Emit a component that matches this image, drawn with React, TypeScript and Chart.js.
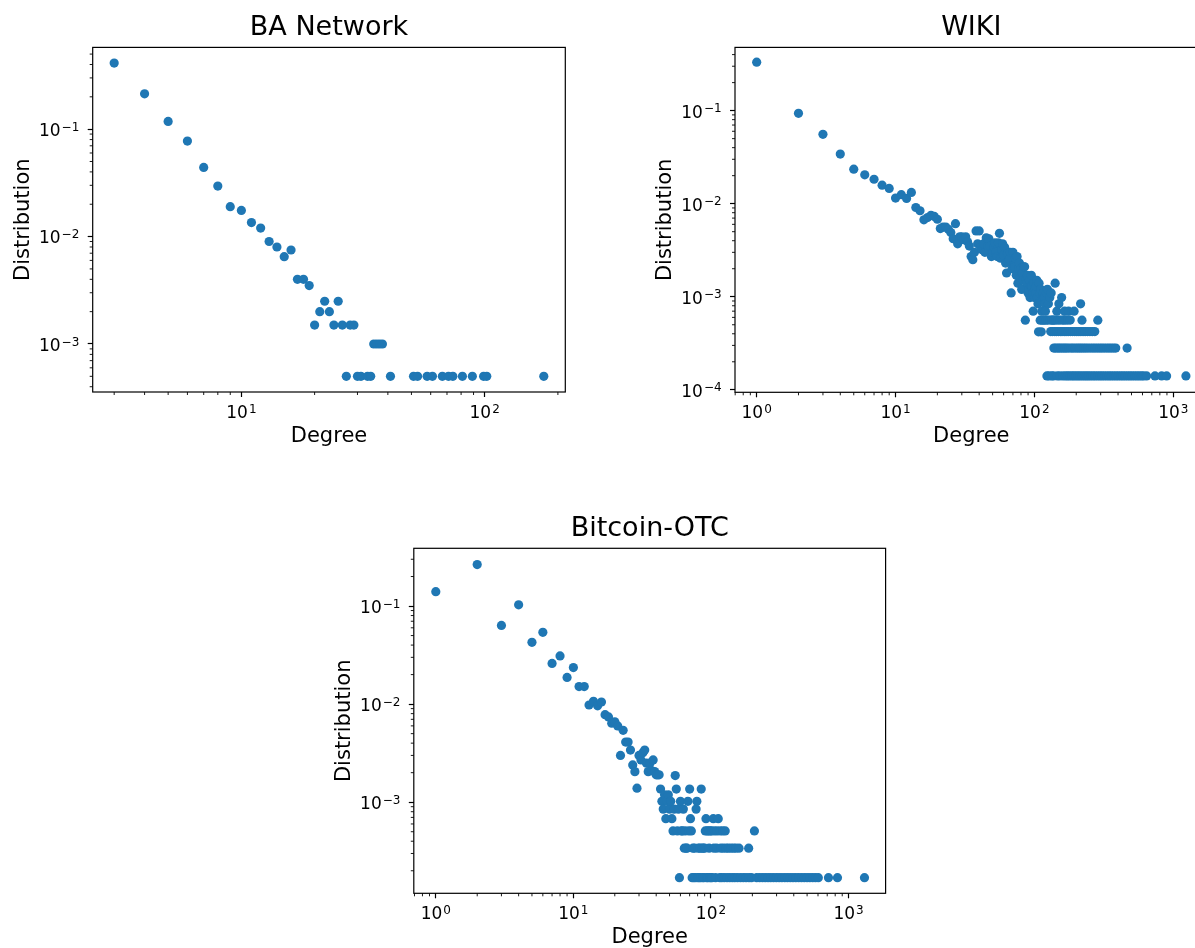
import React, { useEffect, useRef } from 'react';
import { Chart, registerables } from 'chart.js';

Chart.register(...registerables);

// ---------------- Data ----------------
// BA Network
const baDegree = [3, 4, 5, 6, 7, 8, 9, 10, 11, 12, 13, 14, 15, 16, 17, 18, 19, 20, 21, 22, 23, 24, 25, 26, 28, 29, 35, 36, 37, 38,
  27, 30, 31, 33, 34, 41, 51, 53, 58, 61, 67, 71, 74, 81, 89, 99, 102, 175];
const baDist = [0.4125, 0.2135, 0.118, 0.0775, 0.044, 0.0295, 0.019, 0.0175, 0.0135, 0.012, 0.009, 0.008, 0.0065, 0.0075, 0.004, 0.004, 0.0035, 0.0015, 0.002, 0.0025, 0.002, 0.0015, 0.0025, 0.0015, 0.0015, 0.0015, 0.001, 0.001, 0.001, 0.001,
  0.0005, 0.0005, 0.0005, 0.0005, 0.0005, 0.0005, 0.0005, 0.0005, 0.0005, 0.0005, 0.0005, 0.0005, 0.0005, 0.0005, 0.0005, 0.0005, 0.0005, 0.0005];

// WIKI: low degrees and the dense cloud
const wikiHeadDegree = [1, 2, 3, 4, 5, 6, 7, 8, 9, 10, 11, 12, 13, 14, 15, 16, 17, 18, 19, 20, 21, 22, 23, 24, 25, 26, 27, 28, 29, 30,
  31, 32, 33, 34, 35, 36, 37, 38, 39, 40, 41, 42, 43, 44, 45, 46, 47, 48, 49, 50, 51, 52, 53, 54, 55, 56, 57, 58, 59, 60,
  61, 62, 63, 64, 65, 66, 67, 68, 69, 70, 71, 72, 73, 74, 75, 76, 77, 78, 79, 80, 81, 82, 83, 84, 85, 86, 87, 88, 89, 90,
  91, 92, 93, 94, 95, 96, 97, 98, 99, 100, 101, 102, 103, 104, 105, 106, 107, 108, 109, 110, 111, 112, 113, 114, 115, 116, 117, 118, 119, 120,
  121, 122, 124, 126, 129, 132, 136, 141, 145, 150, 157, 165, 176, 193, 215, 220, 286];
const wikiHeadDist = [0.332, 0.0936, 0.0556, 0.0341, 0.0235, 0.0204, 0.0183, 0.0158, 0.0146, 0.0115, 0.0125, 0.0114, 0.0132, 0.0091, 0.0084, 0.0067, 0.0071, 0.0075, 0.0073, 0.0068, 0.0054, 0.0056, 0.0056, 0.0053, 0.0049, 0.0042, 0.0061, 0.0037, 0.0044, 0.0044,
  0.0041, 0.0044, 0.0039, 0.0035, 0.0027, 0.0025, 0.003, 0.0051, 0.0037, 0.0051, 0.0034, 0.0032, 0.0037, 0.003, 0.0043, 0.0035, 0.0042, 0.0035, 0.0027, 0.003, 0.0034, 0.0038, 0.003, 0.0027, 0.0038, 0.0048, 0.0026, 0.0032, 0.0037, 0.0028,
  0.0034, 0.0023, 0.0018, 0.0029, 0.0024, 0.0025, 0.003, 0.0011, 0.002, 0.003, 0.0022, 0.0021, 0.0026, 0.0017, 0.0027, 0.0014, 0.002, 0.0023, 0.0016, 0.002, 0.0012, 0.0018, 0.0015, 0.0021, 0.0021, 0.00056, 0.0015, 0.0014, 0.0017, 0.0011,
  0.0012, 0.0015, 0.00098, 0.0013, 0.0017, 0.0013, 0.0011, 0.0007, 0.0014, 0.00098, 0.0012, 0.0011, 0.0013, 0.0015, 0.00098, 0.00084, 0.00042, 0.0014, 0.0011, 0.00056, 0.0012, 0.00042, 0.0007, 0.00056, 0.00098, 0.0011, 0.00056, 0.00098, 0.00084, 0.0007,
  0.00056, 0.0011, 0.0012, 0.00084, 0.00098, 0.0011, 0.00056, 0.0014, 0.0007, 0.00084, 0.00098, 0.0007, 0.0007, 0.0007, 0.00084, 0.00056, 0.00056];
// WIKI: quantised tail rows
const wikiTailDegree = [125, 130, 134, 139, 143, 148, 153, 159, 163, 168, 174, 181,
  131, 135, 140, 144, 149, 154, 158, 164, 169, 175, 182, 188, 195, 202, 209, 216, 224, 232, 241, 251, 261, 272,
  138, 142, 147, 151, 156, 161, 166, 171, 177, 184, 190, 197, 204, 211, 218, 226, 234, 243, 253, 263, 273, 284, 295, 306, 318, 331, 344, 357, 371, 385, 465,
  123, 127, 133, 137, 146, 152, 160, 167, 173, 179, 186, 192, 199, 206, 213, 221, 229, 237, 245, 254, 264, 274, 285, 296, 307, 319, 332, 345, 358, 372, 387, 402, 418, 434, 451, 469, 487, 506, 526, 547, 568, 590, 610, 642, 738, 824, 895, 1233];
const wikiTailDist = [0.000562, 0.000562, 0.000562, 0.000562, 0.000562, 0.000562, 0.000562, 0.000562, 0.000562, 0.000562, 0.000562, 0.000562,
  0.000422, 0.000422, 0.000422, 0.000422, 0.000422, 0.000422, 0.000422, 0.000422, 0.000422, 0.000422, 0.000422, 0.000422, 0.000422, 0.000422, 0.000422, 0.000422, 0.000422, 0.000422, 0.000422, 0.000422, 0.000422, 0.000422,
  0.000281, 0.000281, 0.000281, 0.000281, 0.000281, 0.000281, 0.000281, 0.000281, 0.000281, 0.000281, 0.000281, 0.000281, 0.000281, 0.000281, 0.000281, 0.000281, 0.000281, 0.000281, 0.000281, 0.000281, 0.000281, 0.000281, 0.000281, 0.000281, 0.000281, 0.000281, 0.000281, 0.000281, 0.000281, 0.000281, 0.000281,
  0.000141, 0.000141, 0.000141, 0.000141, 0.000141, 0.000141, 0.000141, 0.000141, 0.000141, 0.000141, 0.000141, 0.000141, 0.000141, 0.000141, 0.000141, 0.000141, 0.000141, 0.000141, 0.000141, 0.000141, 0.000141, 0.000141, 0.000141, 0.000141, 0.000141, 0.000141, 0.000141, 0.000141, 0.000141, 0.000141, 0.000141, 0.000141, 0.000141, 0.000141, 0.000141, 0.000141, 0.000141, 0.000141, 0.000141, 0.000141, 0.000141, 0.000141, 0.000141, 0.000141, 0.000141, 0.000141, 0.000141, 0.000141];

// Bitcoin-OTC
const btcHeadDegree = [1, 2, 3, 4, 5, 6, 7, 8, 9, 10, 11, 12, 13, 14, 15, 16, 17, 18, 19, 20, 21, 22, 23, 24, 25, 26, 27, 28, 29, 30,
  31, 32, 33, 34, 35, 36, 37, 38, 39, 40, 41, 42, 43, 44, 45, 46, 47, 48, 49, 50, 51, 52, 53, 54, 55, 56, 57, 58];
const btcHeadDist = [0.14, 0.265, 0.0635, 0.103, 0.0427, 0.054, 0.026, 0.031, 0.0187, 0.0236, 0.0151, 0.0151, 0.0098, 0.0107, 0.0096, 0.0105, 0.0078, 0.0074, 0.0064, 0.0066, 0.006, 0.003, 0.0054, 0.0041, 0.0041, 0.0034, 0.0024, 0.00205, 0.00139, 0.003,
  0.0027, 0.0032, 0.0034, 0.0025, 0.00205, 0.0025, 0.0021, 0.0027, 0.00205, 0.0019, 0.0019, 0.0019, 0.00136, 0.00102, 0.00085, 0.00119, 0.00068, 0.00102, 0.00119, 0.00085, 0.00102, 0.00068, 0.00051, 0.00085, 0.00187, 0.00136, 0.00051, 0.00085];
const btcMidDegree = [59, 60, 61, 62, 63, 64, 65, 66, 67, 68, 69, 70, 71, 72, 73, 74, 75, 76, 77, 78, 79, 80, 81, 82, 83, 84, 85, 86, 87, 88,
  89, 90, 91, 92, 93, 94, 95, 96, 97, 98, 99, 100, 101, 102, 104, 105, 106, 108, 110, 111, 113, 116, 117, 118, 120, 122, 123, 125, 127, 129];
const btcMidDist = [0.00017, 0.00102, 0.00051, 0.00051, 0.00085, 0.00034, 0.00051, 0.00034, 0.00034, 0.00102, 0.00051, 0.00136, 0.00068, 0.00051, 0.00017, 0.00034, 0.00017, 0.00034, 0.00017, 0.00085, 0.00102, 0.00017, 0.00034, 0.00017, 0.00034, 0.00017, 0.00136, 0.00034, 0.00017, 0.00034,
  0.00017, 0.00034, 0.00051, 0.00068, 0.00017, 0.00051, 0.00017, 0.00051, 0.00034, 0.00017, 0.00051, 0.00017, 0.00051, 0.00017, 0.00068, 0.00034, 0.00051, 0.00017, 0.00034, 0.00051, 0.00068, 0.00017, 0.00051, 0.00034, 0.00017, 0.00051, 0.00034, 0.00017, 0.00051, 0.00034];
const btcTailDegree = [131, 134, 137, 140, 143, 146, 149, 152, 156, 160, 164, 172, 180, 188, 189, 197, 207, 215, 226, 237, 248, 260, 272, 285, 299, 313,
  328, 344, 360, 377, 395, 414, 434, 455, 477, 500, 524, 549, 575, 603, 715, 831, 1306];
const btcTailDist = [0.00017, 0.00034, 0.00017, 0.00034, 0.00017, 0.00034, 0.00017, 0.00034, 0.00017, 0.00034, 0.00017, 0.00017, 0.00017, 0.00034, 0.00017, 0.00017, 0.00051, 0.00017, 0.00017, 0.00017, 0.00017, 0.00017, 0.00017, 0.00017, 0.00017, 0.00017,
  0.00017, 0.00017, 0.00017, 0.00017, 0.00017, 0.00017, 0.00017, 0.00017, 0.00017, 0.00017, 0.00017, 0.00017, 0.00017, 0.00017, 0.00017, 0.00017, 0.00017];

// Tick values
const baXTicks = [10, 100];
const baYTicks = [0.001, 0.01, 0.1];
const wikiXTicks = [1, 10, 100, 1000];
const wikiYTicks = [0.0001, 0.001, 0.01, 0.1];
const btcXTicks = [1, 10, 100, 1000];
const btcYTicks = [0.001, 0.01, 0.1];

// Axis limits
const baXRange = [2.448, 214.5];
const baYRange = [3.573e-4, 0.577];
const wikiXRange = [0.698, 1766];
const wikiYRange = [9.4e-5, 0.478];
const btcXRange = [0.692, 1860];
const btcYRange = [1.178e-4, 0.388];

// ---------------- Style / layout ----------------
const BLUE = '#1f77b4';
const FONT = "'DejaVu Sans', 'Liberation Sans', sans-serif";
const Y_AXIS_W = 81.8;
const X_AXIS_H = 57;
const TICK_FONT = 17;
const EXP_FONT = 12;

function expText(v: number): string {
  const e = Math.round(Math.log10(v));
  return e < 0 ? '\u2212' + Math.abs(e) : String(e);
}

// matplotlib-style "10^n" label: base + raised exponent
function drawPowLabel(ctx: CanvasRenderingContext2D, v: number, x: number, baseline: number, align: 'center' | 'right') {
  const exp = expText(v);
  ctx.font = `${TICK_FONT}px ${FONT}`;
  const bw = ctx.measureText('10').width;
  ctx.font = `${EXP_FONT}px ${FONT}`;
  const ew = ctx.measureText(exp).width;
  const gap = 1;
  const total = bw + gap + ew;
  const x0 = align === 'center' ? x - total / 2 : x - total;
  ctx.textAlign = 'left';
  ctx.textBaseline = 'alphabetic';
  ctx.fillStyle = '#000';
  ctx.font = `${TICK_FONT}px ${FONT}`;
  ctx.fillText('10', x0, baseline);
  ctx.font = `${EXP_FONT}px ${FONT}`;
  ctx.fillText(exp, x0 + bw + gap, baseline - 5.2);
}

const framePlugin = {
  id: 'mplFrame',
  afterDraw(chart: any) {
    const { ctx, chartArea: a, scales } = chart;
    ctx.save();
    ctx.strokeStyle = '#000';
    ctx.lineWidth = 0.9;
    const minor = (scale: any, horizontal: boolean) => {
      const lo = Math.floor(Math.log10(scale.min));
      const hi = Math.ceil(Math.log10(scale.max));
      for (let e = lo; e <= hi; e++) {
        for (let m = 2; m <= 9; m++) {
          const v = m * Math.pow(10, e);
          if (v < scale.min || v > scale.max) continue;
          const p = scale.getPixelForValue(v);
          ctx.beginPath();
          if (horizontal) {
            ctx.moveTo(p, a.bottom);
            ctx.lineTo(p, a.bottom + 3);
          } else {
            ctx.moveTo(a.left, p);
            ctx.lineTo(a.left - 3, p);
          }
          ctx.stroke();
        }
      }
    };
    minor(scales.x, true);
    minor(scales.y, false);

    // tick labels (10 with superscript exponent), placed on the library's ticks
    scales.x.ticks.forEach((t: any) => {
      const p = scales.x.getPixelForValue(t.value);
      drawPowLabel(ctx, t.value, p, a.bottom + 26, 'center');
    });
    scales.y.ticks.forEach((t: any) => {
      const p = scales.y.getPixelForValue(t.value);
      drawPowLabel(ctx, t.value, a.left - 13.4, p + 6.9, 'right');
    });

    ctx.lineWidth = 1.2;
    ctx.strokeRect(a.left, a.top, a.right - a.left, a.bottom - a.top);
    ctx.restore();
  },
};

type Area = { l: number; r: number; t: number; b: number };

type PanelProps = {
  title: string;
  xs: number[];
  ys: number[];
  xRange: number[];
  yRange: number[];
  xTicks: number[];
  yTicks: number[];
  area: Area;
  left: number;
  top: number;
};

function Panel({ title, xs, ys, xRange, yRange, xTicks, yTicks, area, left, top }: PanelProps) {
  const ref = useRef<HTMLCanvasElement>(null);
  const W = Math.ceil(area.r - left + 10);
  const H = Math.ceil(area.b - top + X_AXIS_H + 1);

  useEffect(() => {
    if (!ref.current) return;
    const labelFont = { family: FONT, size: 21, lineHeight: 1.2 };
    const chart = new Chart(ref.current, {
      type: 'scatter',
      data: {
        datasets: [
          {
            data: xs.map((x, i) => ({ x, y: ys[i] })),
            backgroundColor: BLUE,
            borderWidth: 0,
            pointRadius: 4.6,
            pointHoverRadius: 4.6,
          },
        ],
      },
      options: {
        animation: false,
        responsive: false,
        devicePixelRatio: 1,
        events: [],
        layout: {
          padding: {
            left: area.l - left - Y_AXIS_W,
            right: left + W - area.r,
            top: 0,
            bottom: top + H - area.b - X_AXIS_H,
          },
        },
        plugins: {
          legend: { display: false },
          tooltip: { enabled: false },
          title: {
            display: true,
            text: title,
            color: '#000',
            fullSize: false,
            font: { family: FONT, size: 27, weight: 'normal', lineHeight: 1.2 },
            padding: { top: area.t - top - 32.4 - 3, bottom: 3 },
          },
        },
        scales: {
          x: {
            type: 'logarithmic',
            position: 'bottom',
            min: xRange[0],
            max: xRange[1],
            bounds: 'data',
            afterBuildTicks: (s: any) => {
              s.ticks = xTicks.map((v) => ({ value: v }));
            },
            afterFit: (s: any) => {
              s.height = X_AXIS_H;
            },
            grid: { display: true, drawOnChartArea: false, drawTicks: true, tickLength: 5, tickColor: '#000', tickWidth: 1.2 },
            border: { display: false },
            ticks: { display: false, autoSkip: false, maxRotation: 0 },
            title: { display: true, text: 'Degree', color: '#000', font: labelFont, padding: 0 },
          },
          y: {
            type: 'logarithmic',
            position: 'left',
            min: yRange[0],
            max: yRange[1],
            bounds: 'data',
            afterBuildTicks: (s: any) => {
              s.ticks = yTicks.map((v) => ({ value: v }));
            },
            afterFit: (s: any) => {
              s.width = Y_AXIS_W;
            },
            grid: { display: true, drawOnChartArea: false, drawTicks: true, tickLength: 5, tickColor: '#000', tickWidth: 1.2 },
            border: { display: false },
            ticks: { display: false, autoSkip: false },
            title: { display: true, text: 'Distribution', color: '#000', font: labelFont, padding: 0 },
          },
        },
      } as any,
      plugins: [framePlugin],
    });
    return () => chart.destroy();
  }, []);

  return (
    <canvas
      ref={ref}
      width={W}
      height={H}
      style={{ position: 'absolute', left, top, width: W, height: H, display: 'block' }}
    />
  );
}

export default function App() {
  const wikiX = wikiHeadDegree.concat(wikiTailDegree);
  const wikiY = wikiHeadDist.concat(wikiTailDist);
  const btcX = btcHeadDegree.concat(btcMidDegree, btcTailDegree);
  const btcY = btcHeadDist.concat(btcMidDist, btcTailDist);
  return (
    <div
      style={{
        position: 'fixed',
        left: 0,
        top: 0,
        width: 1195,
        height: 948,
        overflow: 'hidden',
        background: '#fff',
      }}
    >
      <Panel
        title="BA Network"
        xs={baDegree}
        ys={baDist}
        xRange={baXRange}
        yRange={baYRange}
        xTicks={baXTicks}
        yTicks={baYTicks}
        area={{ l: 92.7, r: 565.3, t: 47.4, b: 392 }}
        left={0}
        top={0}
      />
      <Panel
        title="WIKI"
        xs={wikiX}
        ys={wikiY}
        xRange={wikiXRange}
        yRange={wikiYRange}
        xTicks={wikiXTicks}
        yTicks={wikiYTicks}
        area={{ l: 735, r: 1207.6, t: 47.4, b: 392.3 }}
        left={643}
        top={0}
      />
      <Panel
        title="Bitcoin-OTC"
        xs={btcX}
        ys={btcY}
        xRange={btcXRange}
        yRange={btcYRange}
        xTicks={btcXTicks}
        yTicks={btcYTicks}
        area={{ l: 413.8, r: 885.6, t: 548.3, b: 893.3 }}
        left={322}
        top={501}
      />
    </div>
  );
}
